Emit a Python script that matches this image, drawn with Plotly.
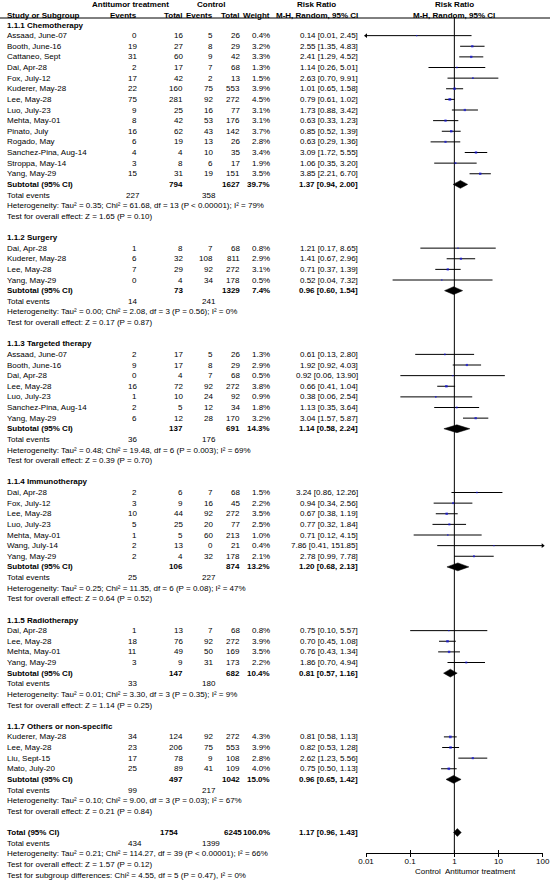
import plotly.graph_objects as go

# ------------------------------------------------------------------ data
group_titles = ["1.1.1 Chemotherapy", "1.1.2 Surgery", "1.1.3 Targeted therapy",
                "1.1.4 Immunotherapy", "1.1.5 Radiotherapy", "1.1.7 Others or non-specific"]

group_sizes = [14, 4, 7, 7, 4, 4]

study_names = [
    # chemotherapy
    "Assaad, June-07", "Booth, June-16", "Cattaneo, Sept", "Dai, Apr-28", "Fox, July-12",
    "Kuderer, May-28", "Lee, May-28", "Luo, July-23", "Mehta, May-01", "Pinato, July",
    "Rogado, May", "Sanchez-Pina, Aug-14", "Stroppa, May-14", "Yang, May-29",
    # surgery
    "Dai, Apr-28", "Kuderer, May-28", "Lee, May-28", "Yang, May-29",
    # targeted therapy
    "Assaad, June-07", "Booth, June-16", "Dai, Apr-28", "Lee, May-28", "Luo, July-23",
    "Sanchez-Pina, Aug-14", "Yang, May-29",
    # immunotherapy
    "Dai, Apr-28", "Fox, July-12", "Lee, May-28", "Luo, July-23", "Mehta, May-01",
    "Wang, July-14", "Yang, May-29",
    # radiotherapy
    "Dai, Apr-28", "Lee, May-28", "Mehta, May-01", "Yang, May-29",
    # others
    "Kuderer, May-28", "Lee, May-28", "Liu, Sept-15", "Mato, July-20",
]
events_treat = [0, 19, 31, 2, 17, 22, 75, 9, 8, 16, 6, 4, 3, 15,
                1, 6, 7, 0,
                2, 9, 0, 16, 1, 2, 6,
                2, 3, 10, 5, 1, 2, 2,
                1, 18, 11, 3,
                34, 23, 17, 25]
total_treat = [16, 27, 60, 17, 42, 160, 281, 25, 42, 62, 19, 4, 8, 31,
               8, 32, 29, 4,
               17, 17, 4, 72, 10, 5, 12,
               6, 9, 44, 25, 5, 13, 4,
               13, 76, 49, 9,
               124, 206, 78, 89]
events_ctrl = [5, 8, 9, 7, 2, 75, 92, 16, 53, 43, 13, 10, 6, 19,
               7, 108, 92, 34,
               5, 8, 7, 92, 24, 12, 28,
               7, 16, 92, 20, 60, 0, 32,
               7, 92, 50, 31,
               92, 75, 9, 41]
total_ctrl = [26, 29, 42, 68, 13, 553, 272, 77, 176, 142, 26, 35, 17, 151,
              68, 811, 272, 178,
              26, 29, 68, 272, 92, 34, 170,
              68, 45, 272, 77, 213, 21, 178,
              68, 272, 169, 173,
              272, 553, 108, 109]
weights = [0.4, 3.2, 3.3, 1.3, 1.5, 3.9, 4.5, 3.1, 3.1, 3.7, 2.8, 3.4, 1.9, 3.5,
           0.8, 2.9, 3.1, 0.5,
           1.3, 2.9, 0.5, 3.8, 0.9, 1.8, 3.2,
           1.5, 2.2, 3.5, 2.5, 1.0, 0.4, 2.1,
           0.8, 3.9, 3.5, 2.2,
           4.3, 3.9, 2.8, 4.0]
rr = [0.14, 2.55, 2.41, 1.14, 2.63, 1.01, 0.79, 1.73, 0.63, 0.85, 0.63, 3.09, 1.06, 3.85,
      1.21, 1.41, 0.71, 0.52,
      0.61, 1.92, 0.92, 0.66, 0.38, 1.13, 3.04,
      3.24, 0.94, 0.67, 0.77, 0.71, 7.86, 2.78,
      0.75, 0.70, 0.76, 1.86,
      0.81, 0.82, 2.62, 0.75]
ci_low = [0.01, 1.35, 1.29, 0.26, 0.70, 0.65, 0.61, 0.88, 0.33, 0.52, 0.29, 1.72, 0.35, 2.21,
          0.17, 0.67, 0.37, 0.04,
          0.13, 0.92, 0.06, 0.41, 0.06, 0.35, 1.57,
          0.86, 0.34, 0.38, 0.32, 0.12, 0.41, 0.99,
          0.10, 0.45, 0.43, 0.70,
          0.58, 0.53, 1.23, 0.50]
ci_high = [2.45, 4.83, 4.52, 5.01, 9.91, 1.58, 1.02, 3.42, 1.23, 1.39, 1.36, 5.55, 3.20, 6.70,
           8.65, 2.96, 1.39, 7.32,
           2.80, 4.03, 13.90, 1.04, 2.54, 3.64, 5.87,
           12.26, 2.56, 1.19, 1.84, 4.15, 151.85, 7.78,
           5.57, 1.08, 1.34, 4.94,
           1.13, 1.28, 5.56, 1.13]

sub_total_treat = [794, 73, 137, 106, 147, 497]
sub_total_ctrl = [1627, 1329, 691, 874, 682, 1042]
sub_weight = [39.7, 7.4, 14.3, 13.2, 10.4, 15.0]
sub_rr = [1.37, 0.96, 1.14, 1.20, 0.81, 0.96]
sub_low = [0.94, 0.60, 0.58, 0.68, 0.57, 0.65]
sub_high = [2.00, 1.54, 2.24, 2.13, 1.16, 1.42]
sub_events_treat = [227, 14, 36, 25, 33, 99]
sub_events_ctrl = [358, 241, 176, 227, 180, 217]
sub_tau2 = ["0.35", "0.00", "0.48", "0.25", "0.01", "0.10"]
sub_chi2 = ["61.68", "2.08", "19.48", "11.35", "3.30", "9.00"]
sub_df = [13, 3, 6, 6, 3, 3]
sub_p = ["< 0.00001", "= 0.56", "= 0.003", "= 0.08", "= 0.35", "= 0.03"]
sub_i2 = [79, 0, 69, 47, 9, 67]
sub_z = ["1.65", "0.17", "0.39", "0.64", "1.14", "0.21"]
sub_pz = ["0.10", "0.87", "0.70", "0.52", "0.25", "0.84"]

total_treat_all = 1754
total_ctrl_all = 6245
total_weight_all = 100.0
total_rr = 1.17
total_low = 0.96
total_high = 1.43
total_events_treat = 434
total_events_ctrl = 1399
total_het = "Heterogeneity: Tau² = 0.21; Chi² = 114.27, df = 39 (P < 0.00001); I² = 66%"
total_effect = "Test for overall effect: Z = 1.57 (P = 0.12)"
subgroup_diff = "Test for subgroup differences: Chi² = 4.55, df = 5 (P = 0.47), I² = 0%"

tick_vals = [0.01, 0.1, 1, 10, 100]
tick_text = ["0.01", "0.1", "1", "10", "100"]
favours_left = "Control"
favours_right = "Antitumor treatment"

# ------------------------------------------------------------------ layout constants
W, H = 550, 880
ROW0, ROWH = 25.0, 10.625          # pixel centre of row 0, row pitch
FONT = "Liberation Sans, Arial, sans-serif"
FS = 8
X_NAME, X_EVT, X_TOTT, X_EVC, X_TOTC, X_W, X_CI = 7, 137.3, 182.7, 213.3, 240.0, 269.5, 358.3
X_TE_T, X_TE_C = 132.5, 208.5
AX_L, AX_R = 366.0, 542.7
AX_Y = 853.3


def prow(py):
    return (py - ROW0) / ROWH


annotations = []


def txt(xp, row, s, anchor="right", bold=False, size=FS):
    annotations.append(dict(
        x=xp / W, xref="paper", y=row, yref="y",
        text=("<b>%s</b>" % s) if bold else s,
        xanchor=anchor, yanchor="middle", showarrow=False,
        borderpad=0, borderwidth=0,
        font=dict(size=size, color="black", family=FONT)))


def ci_str(a, lo, hi):
    return "%.2f [%.2f, %.2f]" % (a, lo, hi)


# headers
txt(130.5, prow(4), "Antitumor treatment", "center", True)
txt(211, prow(4), "Control", "center", True)
txt(316.5, prow(4), "Risk Ratio", "center", True)
txt(454.3, prow(4), "Risk Ratio", "center", True)
txt(X_NAME, prow(15), "Study or Subgroup", "left", True)
txt(X_EVT, prow(15), "Events", "right", True)
txt(X_TOTT, prow(15), "Total", "right", True)
txt(X_EVC, prow(15), "Events", "right", True)
txt(X_TOTC, prow(15), "Total", "right", True)
txt(X_W, prow(15), "Weight", "right", True)
txt(316.5, prow(15), "M-H, Random, 95% CI", "center", True)
txt(454.3, prow(15), "M-H, Random, 95% CI", "center", True)

study_rows = []
diamonds = []   # (row, est, lo, hi)
r = 0
k = 0
for g, title in enumerate(group_titles):
    txt(X_NAME, r, title, "left", True)
    r += 1
    for _ in range(group_sizes[g]):
        txt(X_NAME, r, study_names[k], "left")
        txt(X_EVT, r, str(events_treat[k]))
        txt(X_TOTT, r, str(total_treat[k]))
        txt(X_EVC, r, str(events_ctrl[k]))
        txt(X_TOTC, r, str(total_ctrl[k]))
        txt(X_W, r, "%.1f%%" % weights[k])
        txt(X_CI, r, ci_str(rr[k], ci_low[k], ci_high[k]))
        study_rows.append(r)
        r += 1
        k += 1
    txt(X_NAME, r, "Subtotal (95% CI)", "left", True)
    txt(X_TOTT, r, str(sub_total_treat[g]), bold=True)
    txt(X_TOTC, r, str(sub_total_ctrl[g]), bold=True)
    txt(X_W, r, "%.1f%%" % sub_weight[g], bold=True)
    txt(X_CI, r, ci_str(sub_rr[g], sub_low[g], sub_high[g]), bold=True)
    diamonds.append((r, sub_rr[g], sub_low[g], sub_high[g]))
    txt(X_NAME, r + 1, "Total events", "left")
    txt(X_TE_T, r + 1, str(sub_events_treat[g]), "center")
    txt(X_TE_C, r + 1, str(sub_events_ctrl[g]), "center")
    txt(X_NAME, r + 2, "Heterogeneity: Tau² = %s; Chi² = %s, df = %d (P %s); I² = %d%%"
        % (sub_tau2[g], sub_chi2[g], sub_df[g], sub_p[g], sub_i2[g]), "left")
    txt(X_NAME, r + 3, "Test for overall effect: Z = %s (P = %s)" % (sub_z[g], sub_pz[g]), "left")
    r += 5

# overall
txt(X_NAME, r, "Total (95% CI)", "left", True)
txt(177.5, r, str(total_treat_all), bold=True)
txt(241.5, r, str(total_ctrl_all), bold=True)
txt(X_W, r, "%.1f%%" % total_weight_all, bold=True)
txt(X_CI, r, ci_str(total_rr, total_low, total_high), bold=True)
diamonds.append((r, total_rr, total_low, total_high))
txt(X_NAME, r + 1, "Total events", "left")
txt(135, r + 1, str(total_events_treat), "center")
txt(211, r + 1, str(total_events_ctrl), "center")
txt(X_NAME, r + 2, total_het, "left")
txt(X_NAME, r + 3, total_effect, "left")
txt(X_NAME, r + 4, subgroup_diff, "left")

# axis captions
txt(441, prow(871.5), favours_left, "right")
txt(445, prow(871.5), favours_right, "left")

# ------------------------------------------------------------------ figure
fig = go.Figure()
ax_min, ax_max = tick_vals[0], tick_vals[-1]

# reference line at RR = 1
fig.add_trace(go.Scatter(x=[1, 1], y=[prow(17), prow(AX_Y)], mode="lines",
                         line=dict(color="black", width=1), hoverinfo="skip"))

# confidence interval lines
lx, ly = [], []
arrows_l, arrows_r = [], []
for i, row in enumerate(study_rows):
    lo = max(ci_low[i], ax_min)
    hi = min(ci_high[i], ax_max)
    lx += [lo, hi, None]
    ly += [row, row, None]
    if ci_low[i] <= ax_min:
        arrows_l.append(row)
    if ci_high[i] >= ax_max:
        arrows_r.append(row)
fig.add_trace(go.Scatter(x=lx, y=ly, mode="lines", line=dict(color="black", width=1),
                         hoverinfo="skip"))

# arrow heads for truncated intervals
if arrows_l:
    fig.add_trace(go.Scatter(x=[ax_min] * len(arrows_l), y=arrows_l, mode="markers",
                             marker=dict(symbol="triangle-left", size=4, color="black"),
                             cliponaxis=False, hoverinfo="skip"))
if arrows_r:
    fig.add_trace(go.Scatter(x=[ax_max] * len(arrows_r), y=arrows_r, mode="markers",
                             marker=dict(symbol="triangle-right", size=4, color="black"),
                             cliponaxis=False, hoverinfo="skip"))

# study squares (size by weight)
fig.add_trace(go.Scatter(x=rr, y=study_rows, mode="markers",
                         marker=dict(symbol="square", color="#1010e0",
                                     size=[1.2 + 0.35 * w for w in weights], line=dict(width=0)),
                         hoverinfo="skip"))

# diamonds
HALF = 0.37
for row, est, lo, hi in diamonds:
    fig.add_trace(go.Scatter(x=[lo, est, hi, est, lo], y=[row, row - HALF, row, row + HALF, row],
                             mode="lines", fill="toself", fillcolor="black",
                             line=dict(color="black", width=0.5), hoverinfo="skip"))

# dummies for the overlay axes that carry the crossing tick marks
for ax in ("x2", "x3"):
    fig.add_trace(go.Scatter(x=[1], y=[0], xaxis=ax, mode="markers",
                             marker=dict(size=1, opacity=0), hoverinfo="skip"))

xpos = (H - AX_Y) / H
common = dict(type="log", range=[-2, 2], domain=[AX_L / W, AX_R / W],
              anchor="free", position=xpos, automargin=False,
              showgrid=False, zeroline=False, fixedrange=True)
fig.update_layout(
    width=W, height=H, margin=dict(l=0, r=0, t=0, b=0, pad=0, autoexpand=False),
    paper_bgcolor="white", plot_bgcolor="white", showlegend=False,
    font=dict(family=FONT, size=FS, color="black"),
    xaxis=dict(**common, showline=True, linecolor="black", linewidth=1, ticks="",
               tickvals=tick_vals, ticktext=tick_text,
               tickfont=dict(size=FS, color="black", family=FONT)),
    xaxis2=dict(**common, overlaying="x", showline=False, ticks="outside", ticklen=3,
                tickcolor="black", tickwidth=1, tickvals=tick_vals, showticklabels=False),
    xaxis3=dict(**common, overlaying="x", showline=False, ticks="inside", ticklen=3,
                tickcolor="black", tickwidth=1, tickvals=tick_vals, showticklabels=False),
    yaxis=dict(range=[(H - ROW0) / ROWH, -ROW0 / ROWH], domain=[0, 1],
               visible=False, fixedrange=True, automargin=False),
    annotations=annotations,
    shapes=[dict(type="line", xref="paper", yref="paper", x0=0, x1=1,
                 y0=1 - 18 / H, y1=1 - 18 / H, line=dict(color="black", width=1))],
)

# remove the browser's default 8px page margin so the 550x880 figure fills the window
fig.write_html("out.html", config={"displayModeBar": False, "staticPlot": True},
               post_script="document.body.style.margin='0';")
